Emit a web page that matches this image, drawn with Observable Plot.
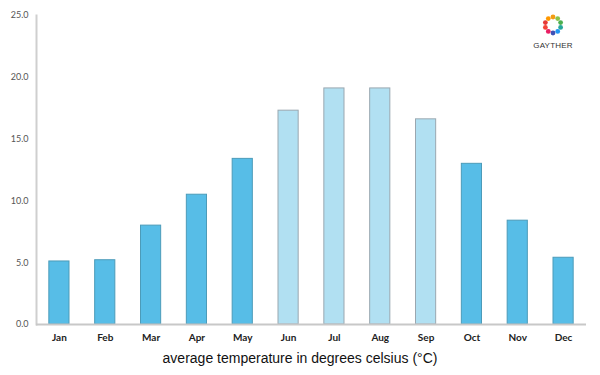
<!DOCTYPE html>
<html>
<head>
<meta charset="utf-8">
<script src="https://cdn.jsdelivr.net/npm/d3@7"></script>
<script src="https://cdn.jsdelivr.net/npm/@observablehq/plot@0.6"></script>
<style>
  html, body { margin: 0; padding: 0; background: #fff; }
  #wrap { position: relative; width: 600px; height: 375px; overflow: hidden; }
  #chart { position: absolute; left: 0; top: 0; }
  #caption { position: absolute; left: 0; width: 600px; top: 350px; text-align: center;
    font-family: "Liberation Sans", Arial, sans-serif; font-size: 14px; color: #111; }
  #logo { position: absolute; left: 528px; top: 14px; width: 50px; text-align: center; }
  #logo .name { font-family: "Liberation Sans", Arial, sans-serif; font-size: 8px; color: #333; letter-spacing: 0.2px; margin-top: 1px; }
</style>
</head>
<body>
<div id="wrap">
  <div id="chart"></div>
  <div id="logo"><svg id="flower" width="22" height="22"></svg><div class="name">GAYTHER</div></div>
  <div id="caption">average temperature in degrees celsius (°C)</div>
</div>
<script>
const months = ["Jan","Feb","Mar","Apr","May","Jun","Jul","Aug","Sep","Oct","Nov","Dec"];
const temps = [5.1, 5.2, 8.0, 10.5, 13.4, 17.3, 19.1, 19.1, 16.6, 13.0, 8.4, 5.4];
const season = ["cool","cool","cool","cool","cool","warm","warm","warm","warm","cool","cool","cool"];
const yTicks = [0, 5, 10, 15, 20, 25];
const logoColors = ["#f39c12","#8bc34a","#4caf50","#26a69a","#2196f3","#3f51b5","#e91e63","#f44336","#e53935","#ff9800"];

const data = months.map((m, i) => ({month: m, temp: temps[i], season: season[i]}));

const chart = Plot.plot({
  width: 600,
  height: 345,
  marginTop: 15,
  marginBottom: 21,
  marginLeft: 36,
  marginRight: 14,
  style: {fontFamily: "Lato, 'Open Sans', sans-serif", fontSize: "9px", color: "#444", background: "#fff"},
  x: {domain: months, paddingInner: 0.56, paddingOuter: 0.28, round: false, label: null},
  y: {domain: [0, 25], label: null},
  color: {domain: ["cool","warm"], range: ["#57bde7","#b1e0f2"]},
  marks: [
    Plot.barY(data, {x: "month", y: "temp", fill: "season",
      stroke: d => d.season === "cool" ? "#4c9bb9" : "#9aa7b0", strokeWidth: 1}),
    Plot.frame({anchor: "left", stroke: "#cfcfcf", strokeWidth: 2}),
    Plot.ruleY([0], {stroke: "#c8c8c8", strokeWidth: 2}),
    Plot.axisY({ticks: yTicks, tickSize: 0, tickPadding: 8, tickFormat: d => d.toFixed(1), fill: "#555", fontSize: 9}),
    Plot.axisX({tickSize: 0, tickPadding: 9, fill: "#222", fontSize: 10, fontWeight: "bold"})
  ]
});
document.getElementById("chart").appendChild(chart);

// small decorative logo ring
const svg = d3.select("#flower");
logoColors.forEach((c, i) => {
  const a = (i / logoColors.length) * 2 * Math.PI - Math.PI / 2;
  svg.append("circle").attr("cx", 11 + 8 * Math.cos(a)).attr("cy", 11 + 8 * Math.sin(a)).attr("r", 2.4).attr("fill", c);
});
</script>
</body>
</html>
